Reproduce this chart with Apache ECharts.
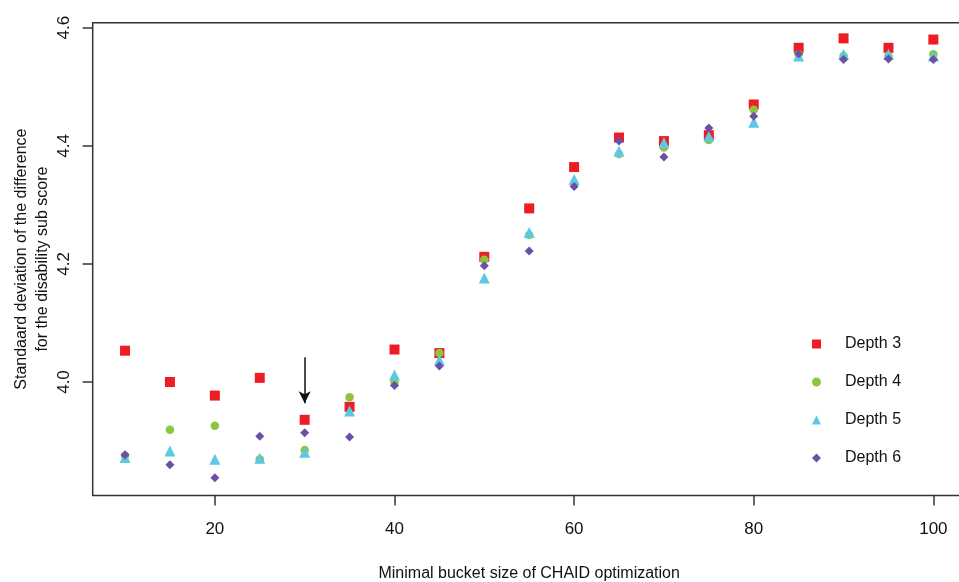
<!DOCTYPE html>
<html>
<head>
<meta charset="utf-8">
<script src="https://cdn.jsdelivr.net/npm/echarts@6/dist/echarts.min.js"></script>
<style>
  html, body { margin: 0; padding: 0; background: #fff; }
  #chart { width: 959px; height: 582px; }
</style>
</head>
<body>
<div id="chart"></div>
<script>
// bucket sizes
var bucketSizes = [10, 15, 20, 25, 30, 35, 40, 45, 50, 55, 60, 65, 70, 75, 80, 85, 90, 95, 100];
// standard deviation per depth
var depth3 = [4.053, 4.000, 3.977, 4.007, 3.936, 3.958, 4.055, 4.049, 4.212, 4.294, 4.364, 4.414, 4.408, 4.418, 4.470, 4.566, 4.582, 4.566, 4.580];
var depth4 = [3.875, 3.919, 3.926, 3.869, 3.885, 3.974, 3.999, 4.049, 4.207, 4.249, 4.337, 4.386, 4.397, 4.410, 4.461, 4.555, 4.552, 4.552, 4.555];
var depth5 = [3.872, 3.883, 3.869, 3.871, 3.881, 3.951, 4.012, 4.037, 4.176, 4.253, 4.343, 4.391, 4.405, 4.416, 4.440, 4.552, 4.555, 4.555, 4.552];
var depth6 = [3.877, 3.860, 3.838, 3.908, 3.914, 3.907, 3.994, 4.027, 4.197, 4.222, 4.331, 4.408, 4.381, 4.430, 4.450, 4.556, 4.546, 4.547, 4.546];
var seriesNames = ["Depth 3", "Depth 4", "Depth 5", "Depth 6"];
// tick labels
var xTicks = [20, 40, 60, 80, 100];
var yTicks = [4.0, 4.2, 4.4, 4.6];
// arrow pointing at chosen bucket size (x, from y, to y)
var arrowMark = [30, 4.042, 3.964];

window.onload = function () {
  var chart = echarts.init(document.getElementById("chart"));

  function pairs(ys) {
    return bucketSizes.map(function (x, i) {
      return [x, ys[i]];
    });
  }

  var font = "Liberation Sans, Arial, sans-serif";
  var styles = [
    { symbol: "rect", size: 10, color: "#EE1D23" },
    { symbol: "circle", size: 8.5, color: "#8CC63E" },
    { symbol: "triangle", size: 11, color: "#5DC8E3" },
    { symbol: "diamond", size: 9, color: "#6B4FA8" },
  ];
  var allData = [depth3, depth4, depth5, depth6];

  var series = allData.map(function (ys, i) {
    return {
      name: seriesNames[i],
      type: "scatter",
      data: pairs(ys),
      symbol: styles[i].symbol,
      symbolSize: styles[i].size,
      itemStyle: { color: styles[i].color, opacity: 1 },
    };
  });

  //箭头
  series[0].markLine = {
    silent: true,
    symbol: ["none", "arrow"],
    symbolSize: [9, 12],
    label: { show: false },
    lineStyle: { color: "#111", width: 1.5, type: "solid" },
    data: [
      [
        { coord: [arrowMark[0], arrowMark[1]] },
        { coord: [arrowMark[0], arrowMark[2]] },
      ],
    ],
  };

  var option = {
    backgroundColor: "#fff",
    animation: false,
    grid: {
      left: 92.7,
      right: -6.7,
      top: 22.7,
      bottom: 86.5,
      show: true,
      borderColor: "#333",
      borderWidth: 1.5,
      containLabel: false,
      outerBoundsMode: "none",
    },
    legend: {
      orient: "vertical",
      left: 812,
      top: 334,
      padding: 0,
      itemWidth: 9,
      itemHeight: 9,
      itemGap: 18,
      data: seriesNames.map(function (n, i) {
        return { name: n, icon: styles[i].symbol };
      }),
      textStyle: {
        fontFamily: font,
        fontSize: 16,
        color: "#111",
        lineHeight: 20,
        padding: [0, 0, 0, 19],
      },
    },
    xAxis: {
      type: "value",
      min: 6.4,
      max: 103.6,
      name: "Minimal bucket size of CHAID optimization",
      nameLocation: "middle",
      nameGap: 70,
      nameMoveOverlap: false,
      nameTextStyle: { fontFamily: font, fontSize: 16, color: "#111" },
      axisLine: { show: false },
      splitLine: { show: false },
      axisTick: {
        show: true,
        length: 10,
        customValues: xTicks,
        lineStyle: { color: "#333", width: 1.5 },
      },
      axisLabel: {
        customValues: xTicks,
        margin: 25,
        fontFamily: font,
        fontSize: 17,
        color: "#111",
      },
    },
    yAxis: {
      type: "value",
      min: 3.8078,
      max: 4.6085,
      name: "Standaard deviation of the difference\nfor the disability sub score",
      nameLocation: "middle",
      nameRotate: 90,
      nameGap: 40,
      nameMoveOverlap: false,
      nameTextStyle: { fontFamily: font, fontSize: 16, color: "#111", lineHeight: 21 },
      axisLine: { show: false },
      splitLine: { show: false },
      axisTick: {
        show: true,
        length: 10,
        customValues: yTicks,
        lineStyle: { color: "#333", width: 1.5 },
      },
      axisLabel: {
        customValues: yTicks,
        rotate: 90,
        margin: 20,
        fontFamily: font,
        fontSize: 17,
        color: "#111",
        formatter: function (v) {
          return v.toFixed(1);
        },
      },
    },
    series: series,
  };
  chart.setOption(option);
  window.onresize = function () {
    chart.resize();
  };
};
</script>
</body>
</html>
